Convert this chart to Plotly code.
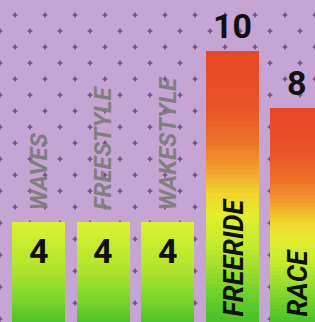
import numpy as np
import plotly.graph_objects as go

categories = ["WAVES", "FREESTYLE", "WAKESTYLE", "FREERIDE", "RACE"]
values = [4, 4, 4, 10, 8]

# style per bar (not data)
gradient_of = ["green", "green", "green", "hot", "hot"]
label_inside = [False, False, False, True, True]

GRADS = {
    "green": [(0.0, "#3cb828"), (0.12, "#4cc22a"), (0.3, "#78d42c"),
              (0.6, "#b4e42e"), (1.0, "#dcf232")],
    "hot": [(0.0, "#3cb828"), (0.1, "#58c82c"), (0.2, "#8cd82c"),
            (0.32, "#c4ea2e"), (0.42, "#e2ee2e"), (0.5, "#f0d42c"),
            (0.58, "#f2a02c"), (0.68, "#ee722a"), (0.8, "#ea5428"),
            (1.0, "#e64628")],
}


def hex2rgb(h):
    h = h.lstrip("#")
    return np.array([int(h[i:i + 2], 16) for i in (0, 2, 4)], dtype=float)


def interp(grad, t):
    for (t0, c0), (t1, c1) in zip(grad[:-1], grad[1:]):
        if t <= t1:
            f = (t - t0) / (t1 - t0) if t1 > t0 else 0
            c = hex2rgb(c0) * (1 - f) + hex2rgb(c1) * f
            return "rgb(%d,%d,%d)" % tuple(c.round())
    c = hex2rgb(grad[-1][1])
    return "rgb(%d,%d,%d)" % tuple(c.round())


W, H = 315, 322
X0_PX, PITCH = 38.5, 64.5
Y_PER_UNIT, Y_ZERO_PX = 28.53, 335.9
xr = [-X0_PX / PITCH, (W - X0_PX) / PITCH]
yr = [(Y_ZERO_PX - H) / Y_PER_UNIT, Y_ZERO_PX / Y_PER_UNIT]

fig = go.Figure()

# dotted background pattern (decoration) on the base axes, below the bars
dx, dy = [], []
for r, py in enumerate(np.arange(15, H, 16)):
    start = 15 if r % 2 == 0 else 0
    for px in np.arange(start, W + 1, 30):
        dx.append((px - X0_PX) / PITCH)
        dy.append((Y_ZERO_PX - py) / Y_PER_UNIT)
fig.add_trace(go.Scatter(x=dx, y=dy, mode="markers", hoverinfo="skip",
                         marker=dict(symbol="cross", size=4, color="#6e4e84",
                                     line=dict(width=0)),
                         showlegend=False, xaxis="x", yaxis="y"))

# gradient bars: stacked from 0, tallest first
N = 60
xs, ys, cols = [], [], []
for i, v in enumerate(values):
    grad = GRADS[gradient_of[i]]
    for k in range(N, 0, -1):
        t = k / N
        xs.append(i)
        ys.append(v * t)
        cols.append(interp(grad, (k - 0.5) / N))
fig.add_trace(go.Bar(x=xs, y=ys, marker=dict(color=cols, line=dict(width=0)),
                     width=53 / PITCH, hoverinfo="skip", showlegend=False,
                     xaxis="x2", yaxis="y2"))

FONT = "Roboto, Liberation Sans, sans-serif"

for i, (c, v) in enumerate(zip(categories, values)):
    if label_inside[i]:
        fig.add_annotation(x=i, y=v, xref="x2", yref="y2",
                           text="<b>%d</b>" % v, showarrow=False,
                           yanchor="bottom", yshift=3,
                           font=dict(family=FONT, size=34, color="#111111"))
        fig.add_annotation(x=i, y=0, xref="x2", yref="paper",
                           text="<b><i>%s</i></b>" % c,
                           showarrow=False, textangle=-90, yanchor="bottom",
                           yshift=3, xshift=1,
                           font=dict(family=FONT, size=27, color="#111111"))
    else:
        fig.add_annotation(x=i, y=v, xref="x2", yref="y2",
                           text="<b>%d</b>" % v, showarrow=False,
                           yanchor="top", yshift=-7,
                           font=dict(family=FONT, size=34, color="#111111"))
        fig.add_annotation(x=i, y=v, xref="x2", yref="y2",
                           text="<b><i>%s</i></b>" % c,
                           showarrow=False, textangle=-90, yanchor="bottom",
                           yshift=9,
                           font=dict(family=FONT, size=24, color="#7f7f7f"))

fig.update_layout(
    width=W, height=H, margin=dict(l=0, r=0, t=0, b=0, pad=0),
    paper_bgcolor="#c6a4d4", plot_bgcolor="#c6a4d4",
    barmode="overlay", bargap=0, showlegend=False,
    xaxis=dict(range=xr, visible=False, fixedrange=True),
    yaxis=dict(range=yr, visible=False, fixedrange=True),
    xaxis2=dict(range=xr, visible=False, fixedrange=True, overlaying="x"),
    yaxis2=dict(range=yr, visible=False, fixedrange=True, overlaying="y"),
)

fig.write_html("out.html", config={"displayModeBar": False},
               post_script="document.body.style.margin='0';")
